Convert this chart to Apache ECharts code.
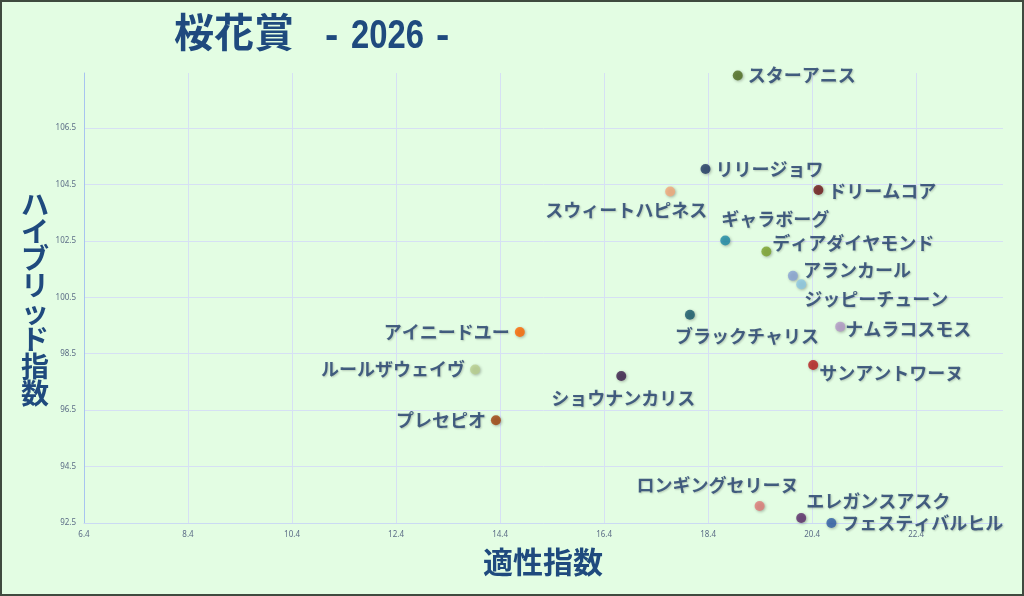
<!DOCTYPE html>
<html>
<head>
<meta charset="utf-8">
<script src="https://cdn.jsdelivr.net/npm/echarts@6/dist/echarts.min.js"></script>
<style>
html,body{margin:0;padding:0;background:#e3fde3;}
#c{width:1024px;height:596px;box-sizing:border-box;border:2px solid #3f4a3f;}
</style>
</head>
<body>
<div id="c"></div>
<script>
var horseNames = ['スターアニス','リリージョワ','ドリームコア','スウィートハピネス','ギャラボーグ','ディアダイヤモンド','アランカール','ジッピーチューン','ブラックチャリス','ナムラコスモス','サンアントワーヌ','アイニードユー','ルールザウェイヴ','ショウナンカリス','プレセピオ','ロンギングセリーヌ','エレガンスアスク','フェスティバルヒル'];
var aptitudeIndex = [18.97,18.35,20.52,17.67,18.73,19.52,20.03,20.19,18.05,20.94,20.42,14.78,13.92,16.73,14.32,19.39,20.19,20.77];
var hybridIndex = [108.36,105.05,104.30,104.25,102.51,102.12,101.26,100.96,99.88,99.46,98.10,99.27,97.94,97.71,96.14,93.10,92.68,92.50];
var xTickStart = 6.4, xTickStep = 2;
var yTickStart = 92.5, yTickStep = 2;

// styles (kept separate from data)
var pointColors = ['#4e6b1f','#1f3864','#6e1418','#f4a97a','#1b8aa6','#7aa22a','#8aa4d6','#8cc8e4','#17596b','#b49ac8','#b81c1c','#ff6600','#b9cf8f','#3a1c4a','#a0410a','#e07a78','#5a2a6a','#2f5ea8'];
var labelPlace = {
  'スターアニス':['right',[0,0]],
  'リリージョワ':['right',[0,0]],
  'ドリームコア':['right',[0,1]],
  'スウィートハピネス':['bottom',[-44,0]],
  'ギャラボーグ':['top',[50,-2]],
  'ディアダイヤモンド':['right',[-4,-8]],
  'アランカール':['right',[0,-6]],
  'ジッピーチューン':['right',[-7,15]],
  'ブラックチャリス':['bottom',[57,2]],
  'ナムラコスモス':['right',[-5,3]],
  'サンアントワーヌ':['right',[-4,8]],
  'アイニードユー':['left',[0,0]],
  'ルールザウェイヴ':['left',[0,0]],
  'ショウナンカリス':['bottom',[2,3]],
  'プレセピオ':['left',[0,0]],
  'ロンギングセリーヌ':['top',[-42,-2]],
  'エレガンスアスク':['right',[-5,-17]],
  'フェスティバルヒル':['right',[0,0]]
};

var data = horseNames.map(function(n,i){
  return {
    name: n,
    value: [aptitudeIndex[i], hybridIndex[i]],
    itemStyle: {color: pointColors[i]},
    label: {position: labelPlace[n][0]}
  };
});

var chart = echarts.init(document.getElementById('c'), null, {renderer:'canvas'});
var axisLabelStyle = {fontSize: 8, color: '#5b6c86', fontFamily: 'Noto Sans, sans-serif'};
var titleColor = '#1f4a7e';
chart.setOption({
  backgroundColor: '#e3fde3',
  animation: false,
  grid: {left: 82, top: 71, right: 19, bottom: 71, containLabel: false},
  xAxis: {
    type: 'value', min: xTickStart, max: 24.07, interval: xTickStep,
    axisLine: {show: true, lineStyle: {color: '#cbdaf3', width: 1}},
    axisTick: {show: false},
    axisLabel: Object.assign({margin: 8, showMaxLabel: false}, axisLabelStyle),
    splitLine: {show: true, showMaxLine: false, lineStyle: {color: '#d6e0f4', width: 1}}
  },
  yAxis: {
    type: 'value', min: yTickStart, max: 108.45, interval: yTickStep,
    axisLine: {show: true, lineStyle: {color: '#a8c4f0', width: 1}},
    axisTick: {show: false},
    axisLabel: Object.assign({margin: 8, showMaxLabel: false}, axisLabelStyle),
    splitLine: {show: true, showMaxLine: false, lineStyle: {color: '#d6e0f4', width: 1}}
  },
  graphic: [
    {type: 'text', left: 172, top: 10, style: {
      text: '桜花賞', fontSize: 40, fontWeight: 'bold', fill: titleColor, fontFamily: '"Noto Sans CJK JP"'}},
    {type: 'text', x: 323, y: 15, style: {
      text: '-', fontSize: 40, fontWeight: 'bold', fill: titleColor, fontFamily: '"Liberation Sans", Arial'}},
    {type: 'text', x: 349, y: 15, scaleX: 0.82, style: {
      text: '2026', fontSize: 40, fontWeight: 'bold', fill: titleColor, fontFamily: '"Liberation Sans", Arial'}},
    {type: 'text', x: 434, y: 15, style: {
      text: '-', fontSize: 40, fontWeight: 'bold', fill: titleColor, fontFamily: '"Liberation Sans", Arial'}},
    {type: 'text', left: 19, top: 188, style: {
      text: 'ハ\nイ\nブ\nリ\nッ\nド\n指\n数', fontSize: 28, fontWeight: 'bold', lineHeight: 27,
      fill: titleColor, fontFamily: '"Noto Sans CJK JP"', align: 'center'}},
    {type: 'text', left: 481, top: 545, style: {
      text: '適性指数', fontSize: 30, fontWeight: 'bold', fill: titleColor, fontFamily: '"Noto Sans CJK JP"'}}
  ],
  series: [{
    type: 'scatter',
    symbolSize: 10,
    data: data,
    itemStyle: {shadowBlur: 3, shadowColor: 'rgba(0,0,0,0.35)', shadowOffsetX: 1, shadowOffsetY: 1},
    label: {
      show: true, formatter: '{b}', distance: 5,
      fontSize: 18, fontWeight: 'bold', color: '#1f3b6b', fontFamily: '"Noto Sans CJK JP"',
      textShadowColor: 'rgba(0,0,0,0.25)', textShadowBlur: 2, textShadowOffsetX: 1, textShadowOffsetY: 1
    },
    labelLayout: function (params) {
      var off = labelPlace[horseNames[params.dataIndex]][1];
      return {dx: off[0], dy: off[1], hideOverlap: false};
    }
  }]
});
</script>
</body>
</html>
